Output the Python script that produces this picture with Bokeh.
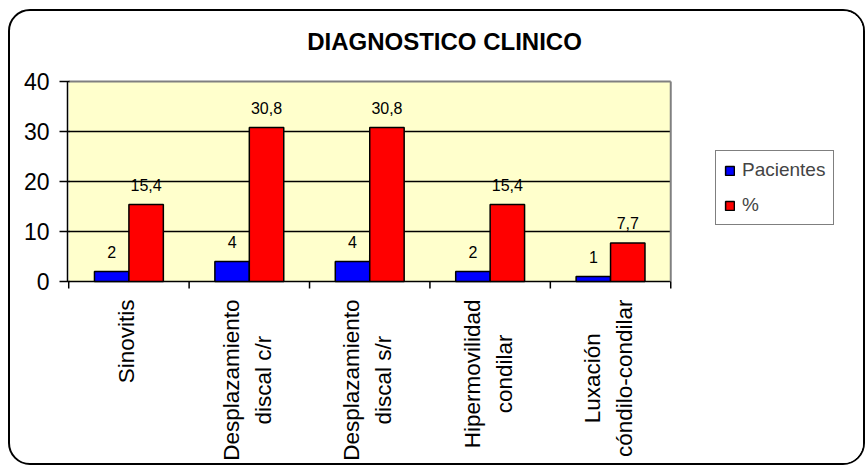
import math
from bokeh.plotting import figure
from bokeh.models import (Range1d, LinearAxis, FixedTicker, Legend, LegendItem,
                          ColumnDataSource, Label)
from bokeh.core.properties import value
from bokeh.embed import file_html
from bokeh.resources import INLINE

categories = ["Sinovitis", "Desplazamiento\ndiscal c/r", "Desplazamiento\ndiscal s/r",
              "Hipermovilidad\ncondilar", "Luxación\ncóndilo-condilar"]
pacientes = [2, 4, 4, 2, 1]
porcentaje = [15.4, 30.8, 30.8, 15.4, 7.7]
y_ticks = [0, 10, 20, 30, 40]
series_names = ["Pacientes", "%"]
title_text = "DIAGNOSTICO CLINICO"

FONT = "Liberation Sans"
CAT_FS = 22.5

# Arial / Liberation Sans advance widths (per 1000 em) used to centre the rotated labels
AW = {"S": 667, "i": 222, "n": 556, "o": 556, "v": 500, "t": 278, "s": 500, "D": 722,
      "e": 556, "p": 556, "l": 222, "a": 556, "z": 500, "m": 833, "c": 500, "/": 278,
      "r": 333, "H": 722, "d": 556, "L": 556, "u": 556, "x": 500, "ó": 556, "-": 333, " ": 278}


def text_w(s, fs):
    return sum(AW.get(ch, 556) for ch in s) * fs / 1000.0


n = len(categories)
bw = 0.286
xc = [i + 0.5 for i in range(n)]          # category slot centres
cat_offset = [18 + max(text_w(line, CAT_FS) for line in c.split("\n")) / 2 for c in categories]

src = ColumnDataSource(dict(
    cat=categories,
    xc=xc,
    xb=[x - bw / 2 for x in xc],
    xr=[x + bw / 2 for x in xc],
    pac=pacientes,
    pct=porcentaje,
    pac_lbl=[str(v) for v in pacientes],
    pct_lbl=[f"{v:.1f}".replace(".", ",") for v in porcentaje],
    zero=[y_ticks[0]] * n,
    cat_off=cat_offset,
))

p = figure(width=857, height=456, title=None,
           x_range=Range1d(-0.01, 6.634), y_range=Range1d(-37.2, 54),
           output_backend="svg", toolbar_location=None,
           x_axis_location=None, y_axis_location=None,
           min_border_left=57, min_border_right=0, min_border_top=0, min_border_bottom=0)

p.background_fill_color = "white"
p.border_fill_color = None
p.outline_line_color = None
p.styles = {"border": "2px solid black", "border-radius": "22px",
            "box-sizing": "border-box", "overflow": "hidden", "background-color": "white",
            "margin-left": "8px", "margin-top": "9px"}
p.xgrid.visible = False
p.ygrid.visible = False

# y axis
yax = LinearAxis(ticker=FixedTicker(ticks=y_ticks), bounds=(y_ticks[0], y_ticks[-1]))
yax.axis_line_color = "black"
yax.axis_line_width = 1.5
yax.major_tick_line_color = "black"
yax.major_tick_line_width = 1.5
yax.major_tick_out = 8
yax.major_tick_in = 2
yax.minor_tick_line_color = None
yax.major_label_text_font = FONT
yax.major_label_text_font_size = "23px"
yax.major_label_text_color = "black"
yax.major_label_standoff = 10
p.add_layout(yax, "left")

# plot area (light yellow), grid lines, gray border
p.quad(left=[0], right=[n], bottom=[y_ticks[0]], top=[y_ticks[-1]],
       fill_color="#FFFFCC", line_color=None, level="image")
grid_y = y_ticks[:-1]
p.segment(x0=[0] * len(grid_y), x1=[n] * len(grid_y), y0=grid_y, y1=grid_y,
          line_color="black", line_width=1.5)
p.segment(x0=[0, n], y0=[y_ticks[-1], y_ticks[0]], x1=[n, n], y1=[y_ticks[-1], y_ticks[-1]],
          line_color="#808080", line_width=2)

# category boundary ticks (7 px downward)
p.segment(x0=list(range(n + 1)), x1=list(range(n + 1)), y0=[0] * (n + 1), y1=[-1.4] * (n + 1),
          line_color="black", line_width=1.5)

r1 = p.vbar(x="xb", top="pac", width=bw, source=src,
            fill_color="#0000FF", line_color="black", line_width=1.5)
r2 = p.vbar(x="xr", top="pct", width=bw, source=src,
            fill_color="#FF0000", line_color="black", line_width=1.5)

p.text(x="xb", y="pac", text="pac_lbl", source=src,
       y_offset=-20, text_align="center", text_baseline="middle",
       text_font=value(FONT), text_font_size="16px", text_color="black")
p.text(x="xr", y="pct", text="pct_lbl", source=src,
       y_offset=-20, text_align="center", text_baseline="middle",
       text_font=value(FONT), text_font_size="16px", text_color="black")

# rotated category labels (centred lines)
p.text(x="xc", y="zero", text="cat", y_offset="cat_off", x_offset=-2, angle=math.pi / 2,
       source=src, text_align="center", text_baseline="middle", text_line_height=1.27,
       text_font=value(FONT), text_font_size=f"{CAT_FS}px", text_color="black")

# title
p.add_layout(Label(x=3.121, y=48, text=title_text, text_font=FONT, text_font_size="24px",
                   text_font_style="bold", text_align="center", text_baseline="middle",
                   text_color="black"))

legend = Legend(items=[LegendItem(label=series_names[0], renderers=[r1]),
                       LegendItem(label=series_names[1], renderers=[r2])],
                location=(648, 242))
legend.border_line_color = "black"
legend.border_line_width = 1.5
legend.background_fill_color = "white"
legend.background_fill_alpha = 1
legend.label_text_font = FONT
legend.label_text_font_size = "19px"
legend.glyph_width = 11
legend.glyph_height = 11
legend.label_height = 22
legend.spacing = 13
legend.padding = 8
legend.label_standoff = 7
legend.margin = 0
p.add_layout(legend)

open("out.html", "w", encoding="utf-8").write(file_html(p, INLINE))
